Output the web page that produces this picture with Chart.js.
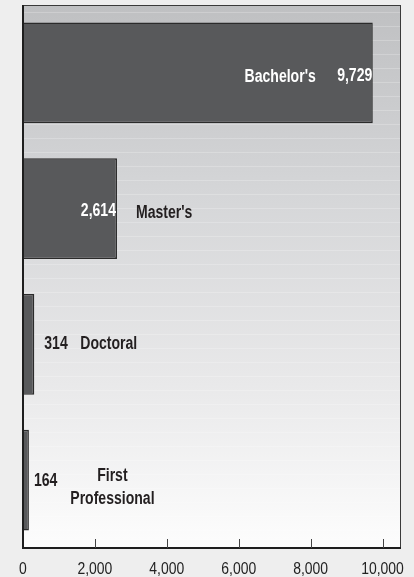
<!DOCTYPE html>
<html>
<head>
<meta charset="utf-8">
<script src="https://cdn.jsdelivr.net/npm/chart.js@4/dist/chart.umd.min.js"></script>
<style>
  html, body { margin: 0; padding: 0; background: #eeeeee; }
  #wrap { width: 414px; height: 577px; }
</style>
</head>
<body>
<div id="wrap"><canvas id="degreeChart" width="414" height="577"></canvas></div>
<script>
// Degrees conferred, by level
const categories = ["Bachelor's", "Master's", "Doctoral", ["First", "Professional"]];
const degreeCounts = [9729, 2614, 314, 164];
const xTicks = [0, 2000, 4000, 6000, 8000, 10000];
const xMax = 10500;

const FONT = '"Liberation Sans", Arial, sans-serif';

function fmt(v) {
    return v.toLocaleString('en-US');
}

// no narrow font installed, so squeeze Liberation Sans sideways
function narrowText(ctx, text, x, y, align, sx) {
    ctx.save();
    ctx.translate(x, y);
    ctx.scale(sx, 1);
    ctx.textAlign = align;
    ctx.textBaseline = 'alphabetic';
    ctx.fillText(text, 0, 0);
    ctx.restore();
}

// plot background: grey to white gradient with faint stripes
const backgroundPlugin = {
    id: 'plotBackground',
    beforeDatasetsDraw(chart) {
        const { ctx, chartArea: a } = chart;
        ctx.save();
        const g = ctx.createLinearGradient(0, a.top, 0, a.bottom);
        g.addColorStop(0, '#bfc0c2');
        g.addColorStop(0.35, '#d5d6d8');
        g.addColorStop(0.7, '#e9e9ea');
        g.addColorStop(1, '#fdfdfd');
        ctx.fillStyle = g;
        ctx.fillRect(a.left, a.top, a.right - a.left, a.bottom - a.top);
        ctx.strokeStyle = 'rgba(255,255,255,0.22)';
        ctx.lineWidth = 1;
        for (let y = a.top + 7.5; y < a.bottom; y += 14) {
            ctx.beginPath();
            ctx.moveTo(a.left, y);
            ctx.lineTo(a.right, y);
            ctx.stroke();
        }
        ctx.restore();
    }
};

// frame, inward ticks, tick labels and bar labels
const annotatePlugin = {
    id: 'annotate',
    afterDatasetsDraw(chart) {
        const { ctx, chartArea: a } = chart;
        const xs = chart.scales.x;
        const meta = chart.getDatasetMeta(0);
        ctx.save();

        // frame
        ctx.strokeStyle = '#3a3a3a';
        ctx.lineWidth = 1;
        ctx.strokeRect(a.left, a.top + 0.5, a.right - a.left, a.bottom - a.top);
        ctx.strokeStyle = '#1e1e1e';
        ctx.lineWidth = 2;
        ctx.beginPath();
        ctx.moveTo(a.left, a.top);
        ctx.lineTo(a.left, a.bottom);
        ctx.lineTo(a.right + 0.5, a.bottom);
        ctx.stroke();

        // ticks pointing up into the plot + labels under the axis
        ctx.strokeStyle = '#444';
        ctx.lineWidth = 1;
        ctx.fillStyle = '#222';
        ctx.font = '17px ' + FONT;
        xTicks.forEach(v => {
            const px = xs.getPixelForValue(v);
            if (v !== 0) {
                const x = Math.round(px) + 0.5;
                ctx.beginPath();
                ctx.moveTo(x, a.bottom);
                ctx.lineTo(x, a.bottom - 9);
                ctx.stroke();
            }
            narrowText(ctx, fmt(v), px, 574, 'center', 0.82);
        });

        // bar labels
        ctx.font = 'bold 18px ' + FONT;
        const dark = '#231f20';
        const sx = 0.78;
        meta.data.forEach((bar, i) => {
            const end = bar.x;
            const y = bar.y;
            const val = fmt(degreeCounts[i]);
            const name = categories[i];
            if (i === 0) {
                ctx.fillStyle = '#ffffff';
                narrowText(ctx, val, end - 0.5, y + 8.5, 'right', sx);
                narrowText(ctx, name, end - 57, y + 9, 'right', sx);
            } else if (i === 1) {
                ctx.fillStyle = '#ffffff';
                narrowText(ctx, val, end - 1, y + 7.5, 'right', sx);
                ctx.fillStyle = dark;
                narrowText(ctx, name, end + 19, y + 9.5, 'left', sx);
            } else if (i === 2) {
                ctx.fillStyle = dark;
                narrowText(ctx, val, end + 10, y + 4.5, 'left', sx);
                narrowText(ctx, name, end + 46, y + 4.5, 'left', sx);
            } else {
                ctx.fillStyle = dark;
                narrowText(ctx, val, end + 5, y + 5.5, 'left', sx);
                narrowText(ctx, name[0], end + 83.5, y + 0.5, 'center', sx);
                narrowText(ctx, name[1], end + 83.5, y + 23.5, 'center', sx);
            }
        });
        ctx.restore();
    }
};

const ctx = document.getElementById('degreeChart').getContext('2d');
new Chart(ctx, {
    type: 'bar',
    data: {
        labels: categories,
        datasets: [{
            data: degreeCounts,
            backgroundColor: '#58595b',
            borderColor: '#2b2b2b',
            borderWidth: 1.5,
            borderSkipped: 'start',
            barPercentage: 0.744,
            categoryPercentage: 1
        }]
    },
    options: {
        indexAxis: 'y',
        responsive: false,
        maintainAspectRatio: false,
        animation: false,
        layout: { padding: { left: 23, right: 13.5, top: 5, bottom: 0 } },
        plugins: {
            legend: { display: false },
            tooltip: { enabled: false }
        },
        scales: {
            x: {
                min: 0,
                max: xMax,
                afterBuildTicks: scale => { scale.ticks = xTicks.map(v => ({ value: v })); },
                afterFit: scale => { scale.height = 29; },
                grid: { display: false, drawTicks: false },
                border: { display: false },
                ticks: { display: false }
            },
            y: {
                display: false,
                grid: { display: false }
            }
        }
    },
    plugins: [backgroundPlugin, annotatePlugin]
});
</script>
</body>
</html>
